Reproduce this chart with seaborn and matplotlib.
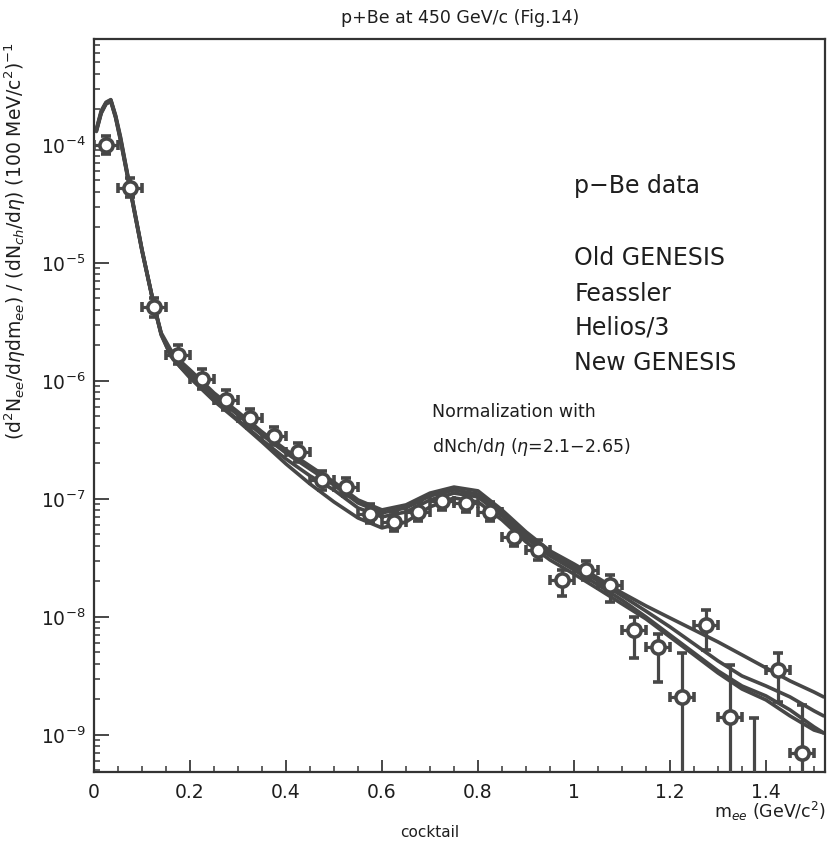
import matplotlib
matplotlib.use("Agg")
import numpy as np
import pandas as pd
import matplotlib.pyplot as plt
import seaborn as sns
from matplotlib.ticker import LogLocator, MultipleLocator, NullFormatter, FixedFormatter, FixedLocator, LogFormatterSciNotation

# ---- model curves: dielectron yield vs invariant mass (GeV/c^2) ----
mass_knots = [0.005, 0.015, 0.025, 0.035, 0.045, 0.055, 0.075, 0.10, 0.125, 0.14,
              0.16, 0.18, 0.20, 0.25, 0.30, 0.35, 0.40, 0.45, 0.50, 0.55,
              0.60, 0.65, 0.70, 0.75, 0.80, 0.85, 0.90, 0.95, 1.00, 1.05,
              1.10, 1.15, 1.20, 1.25, 1.30, 1.35, 1.40, 1.45, 1.50, 1.52]

old_genesis = [1.34e-4, 1.90e-4, 2.27e-4, 2.40e-4, 1.75e-4, 1.15e-4, 4.32e-5, 1.29e-5, 4.41e-6, 2.55e-6,
               1.83e-6, 1.47e-6, 1.24e-6, 7.91e-7, 5.46e-7, 3.70e-7, 2.60e-7, 1.90e-7, 1.39e-7, 9.81e-8,
               8.07e-8, 8.90e-8, 1.12e-7, 1.26e-7, 1.17e-7, 8.07e-8, 5.26e-8, 3.63e-8, 2.81e-8, 2.14e-8,
               1.60e-8, 1.24e-8, 9.80e-9, 7.76e-9, 6.14e-9, 4.77e-9, 3.70e-9, 2.87e-9, 2.31e-9, 2.10e-9]

helios3 = [1.30e-4, 1.85e-4, 2.22e-4, 2.33e-4, 1.70e-4, 1.10e-4, 4.20e-5, 1.26e-5, 4.30e-6, 2.50e-6,
           1.73e-6, 1.39e-6, 1.17e-6, 7.46e-7, 5.15e-7, 3.49e-7, 2.45e-7, 1.79e-7, 1.31e-7, 9.25e-8,
           7.61e-8, 8.40e-8, 1.06e-7, 1.19e-7, 1.10e-7, 7.61e-8, 4.96e-8, 3.42e-8, 2.65e-8, 2.02e-8,
           1.51e-8, 1.12e-8, 8.23e-9, 5.91e-9, 4.24e-9, 3.16e-9, 2.60e-9, 2.10e-9, 1.60e-9, 1.45e-9]

new_genesis = [1.36e-4, 1.95e-4, 2.30e-4, 2.42e-4, 1.78e-4, 1.18e-4, 4.40e-5, 1.30e-5, 4.35e-6, 2.45e-6,
               1.63e-6, 1.31e-6, 1.08e-6, 6.90e-7, 4.67e-7, 3.16e-7, 2.18e-7, 1.57e-7, 1.19e-7, 8.39e-8,
               7.04e-8, 7.76e-8, 9.81e-8, 1.12e-7, 1.04e-7, 7.18e-8, 4.67e-8, 3.29e-8, 2.50e-8, 1.87e-8,
               1.39e-8, 1.00e-8, 7.04e-9, 4.96e-9, 3.49e-9, 2.60e-9, 2.14e-9, 1.63e-9, 1.17e-9, 1.04e-9]

feassler = [1.32e-4, 1.88e-4, 2.25e-4, 2.37e-4, 1.72e-4, 1.12e-4, 4.25e-5, 1.27e-5, 4.38e-6, 2.50e-6,
            1.63e-6, 1.31e-6, 1.06e-6, 6.77e-7, 4.58e-7, 3.04e-7, 1.98e-7, 1.34e-7, 9.43e-8, 6.90e-8,
            5.68e-8, 6.38e-8, 8.56e-8, 1.02e-7, 9.43e-8, 6.64e-8, 4.32e-8, 3.04e-8, 2.31e-8, 1.73e-8,
            1.29e-8, 9.62e-9, 6.77e-9, 4.77e-9, 3.35e-9, 2.45e-9, 1.98e-9, 1.45e-9, 1.10e-9, 1.04e-9]

# ---- p-Be data points: bin centre, yield, lower / upper error-bar ends ----
data_mass = [0.025, 0.075, 0.125, 0.175, 0.225, 0.275, 0.325, 0.375, 0.425, 0.475,
             0.525, 0.575, 0.625, 0.675, 0.725, 0.775, 0.825, 0.875, 0.925, 0.975,
             1.025, 1.075, 1.125, 1.175, 1.225, 1.275, 1.325, 1.375, 1.425, 1.475]
data_yield = [1.00e-4, 4.30e-5, 4.20e-6, 1.66e-6, 1.04e-6, 6.90e-7, 4.85e-7, 3.42e-7, 2.50e-7, 1.45e-7,
              1.26e-7, 7.50e-8, 6.40e-8, 7.80e-8, 9.60e-8, 9.30e-8, 7.80e-8, 4.80e-8, 3.70e-8, 2.06e-8,
              2.50e-8, 1.86e-8, 7.80e-9, 5.60e-9, 2.10e-9, 8.50e-9, 1.42e-9, 3.00e-10, 3.56e-9, 7.00e-10]
data_low = [8.3e-5, 3.6e-5, 3.5e-6, 1.38e-6, 8.6e-7, 5.7e-7, 4.0e-7, 2.85e-7, 2.07e-7, 1.2e-7,
            1.05e-7, 6.2e-8, 5.3e-8, 6.5e-8, 8.0e-8, 7.7e-8, 6.5e-8, 4.0e-8, 3.05e-8, 1.5e-8,
            2.05e-8, 1.35e-8, 4.5e-9, 2.8e-9, 1e-11, 5.2e-9, 1e-11, 1e-11, 1.9e-9, 1e-11]
data_high = [1.2e-4, 5.2e-5, 5.0e-6, 2.0e-6, 1.25e-6, 8.3e-7, 5.8e-7, 4.1e-7, 3.0e-7, 1.74e-7,
             1.51e-7, 9.0e-8, 7.7e-8, 9.4e-8, 1.15e-7, 1.12e-7, 9.4e-8, 5.8e-8, 4.45e-8, 2.5e-8,
             3.0e-8, 2.25e-8, 1.0e-8, 7.2e-9, 4.95e-9, 1.14e-8, 3.9e-9, 1.4e-9, 4.95e-9, 1.8e-9]
bin_half_width = 0.025

x_ticks = [0, 0.2, 0.4, 0.6, 0.8, 1.0, 1.2, 1.4]
x_tick_labels = ["0", "0.2", "0.4", "0.6", "0.8", "1", "1.2", "1.4"]
y_ticks = [1e-9, 1e-8, 1e-7, 1e-6, 1e-5, 1e-4]

legend_lines = ["p\u2212Be data", "Old GENESIS", "Feassler", "Helios/3", "New GENESIS"]

INK = "#474747"
TEXT = "#1e1e1e"

sns.set_style("white")
plt.rcParams["font.family"] = ["DejaVu Sans"]
plt.rcParams["mathtext.fontset"] = "dejavusans"

fig = plt.figure(figsize=(8.28, 8.43), dpi=100)
ax = fig.add_axes([94 / 828, 1 - 772 / 843, 731 / 828, 733 / 843])
ax.set_yscale("log")

curves = pd.concat([
    pd.DataFrame({"m": mass_knots, "value": vals, "model": name})
    for name, vals in [("Old GENESIS", old_genesis), ("Feassler", feassler),
                       ("Helios/3", helios3), ("New GENESIS", new_genesis)]
], ignore_index=True)

sns.lineplot(data=curves, x="m", y="value", units="model", estimator=None, sort=False,
             color=INK, lw=2.6, ax=ax, legend=False, zorder=2)

yv = np.array(data_yield)
yerr = [yv - np.array(data_low), np.array(data_high) - yv]
ax.errorbar(data_mass, data_yield, xerr=bin_half_width, yerr=yerr, fmt="o",
            ms=9.5, mfc="white", mec=INK, mew=2.6, ecolor=INK, elinewidth=2.3,
            capsize=3.5, capthick=2.3, zorder=5, clip_on=True)

ax.set_xlim(0, 1.523)
ax.set_ylim(4.85e-10, 7.9e-4)
ax.set_xlabel("")
ax.set_ylabel("")

# ticks: inward, on bottom and left only
ax.xaxis.set_major_locator(FixedLocator(x_ticks))
ax.xaxis.set_major_formatter(FixedFormatter(x_tick_labels))
ax.xaxis.set_minor_locator(MultipleLocator(0.05))
ax.yaxis.set_major_locator(FixedLocator(y_ticks))
ax.yaxis.set_major_formatter(LogFormatterSciNotation())
ax.yaxis.set_minor_locator(LogLocator(base=10, subs=np.arange(2, 10), numticks=20))
ax.yaxis.set_minor_formatter(NullFormatter())
ax.tick_params(axis="both", which="both", bottom=True, left=True, top=False, right=False,
               direction="in", colors=INK)
ax.tick_params(axis="x", which="major", length=9, width=1.4, labelsize=13.5,
               labelcolor=TEXT, pad=8)
ax.tick_params(axis="y", which="major", length=11, width=1.4, labelsize=13.5,
               labelcolor=TEXT, pad=6)
ax.tick_params(axis="both", which="minor", length=4.5, width=1.2)

for sp in ax.spines.values():
    sp.set_visible(True)
    sp.set_linewidth(1.6)
    sp.set_color("#333333")

# model / data annotations
ax.text(0.657, 0.799, legend_lines[0], transform=ax.transAxes, fontsize=17,
        color=TEXT, va="center", ha="left")
for txt, yy in zip(legend_lines[1:], [0.701, 0.652, 0.607, 0.558]):
    ax.text(0.657, yy, txt, transform=ax.transAxes, fontsize=17,
            color=TEXT, va="center", ha="left")
ax.text(0.462, 0.491, "Normalization with", transform=ax.transAxes, fontsize=12.5,
        color=TEXT, va="center", ha="left")
ax.text(0.462, 0.443, r"dNch/d$\eta$ ($\eta$=2.1$-$2.65)", transform=ax.transAxes,
        fontsize=12.5, color=TEXT, va="center", ha="left")

fig.text(0.556, 0.979, "p+Be at 450 GeV/c (Fig.14)", fontsize=12.5, color=TEXT,
         ha="center", va="center")
fig.text(0.018, 0.714,
         r"(d$^2$N$_{ee}$/d$\eta$dm$_{ee}$) / (dN$_{ch}$/d$\eta$) (100 MeV/c$^2$)$^{-1}$",
         rotation=90, fontsize=13.5, color=TEXT, ha="center", va="center")
fig.text(0.997, 0.037, r"m$_{ee}$ (GeV/c$^2$)", fontsize=12.5, color=TEXT,
         ha="right", va="center")
fig.text(0.519, 0.012, "cocktail", fontsize=11, color=TEXT, ha="center", va="center")

fig.savefig("out.png", dpi=100, facecolor="white")
